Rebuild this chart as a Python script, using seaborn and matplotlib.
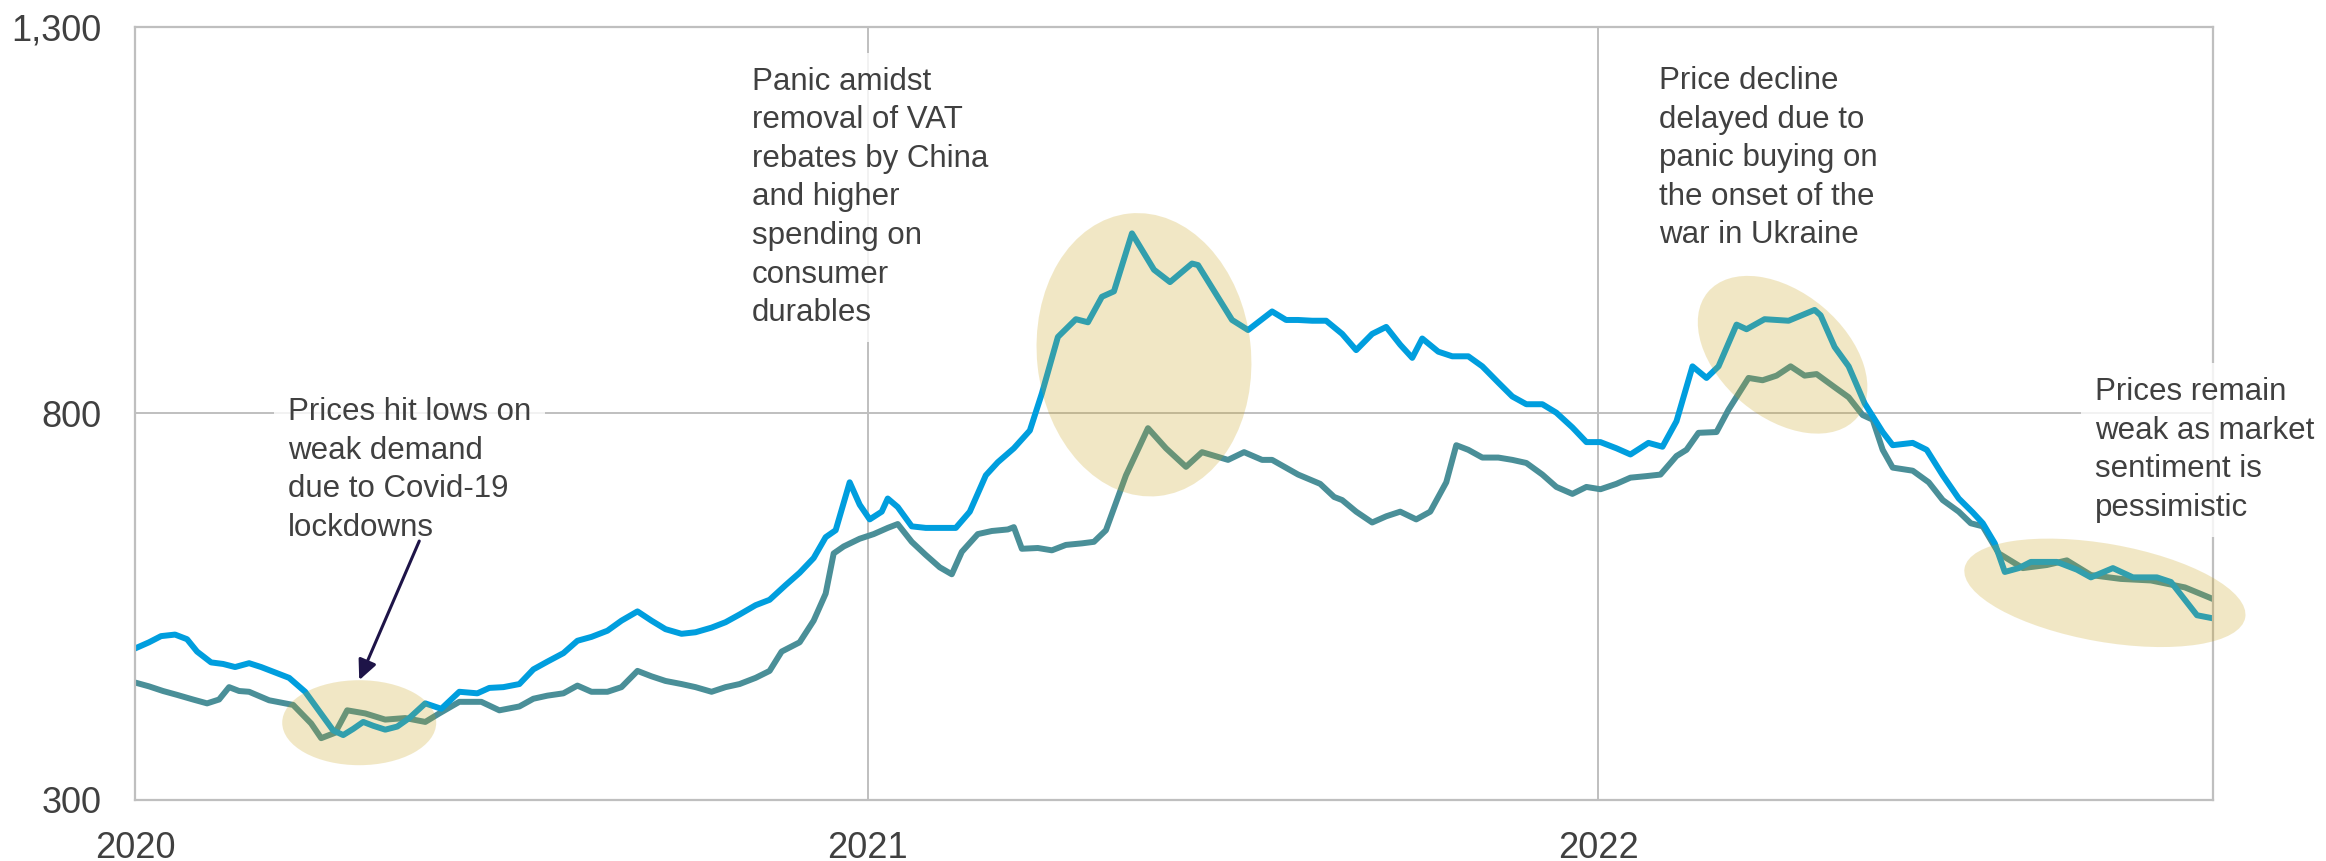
import pandas as pd
import matplotlib
matplotlib.use("Agg")
import matplotlib.pyplot as plt
import matplotlib.dates as mdates
import matplotlib.transforms as mtransforms
from matplotlib.patches import Ellipse
from matplotlib.ticker import FuncFormatter
import seaborn as sns

START = pd.Timestamp("2020-01-01")

# Price series A (bright blue): days since 1 Jan 2020, price
days_a = [0, 7, 13, 20, 26, 31, 38, 44, 50, 57, 63, 67, 77, 85, 94, 99, 104, 109,
          114, 119, 125, 131, 137, 145, 153, 162, 171, 177, 184, 192, 199, 206, 214,
          221, 228, 236, 243, 251, 258, 265, 273, 280, 288, 295, 302, 310, 317, 325,
          332, 339, 345, 350, 357, 362, 367, 373, 376, 381, 388, 395, 402, 410, 417,
          425, 431, 439, 447, 453, 461, 470, 476, 483, 489, 498, 509, 517, 528, 531,
          548, 556, 568, 575, 581, 588, 595, 603, 610, 618, 625, 632, 638, 643, 651,
          658, 666, 673, 681, 688, 695, 703, 710, 718, 725, 732, 740, 747, 756, 763,
          770, 778, 785, 791, 800, 805, 814, 826, 839, 842, 849, 856, 864, 873, 878,
          888, 895, 903, 911, 918, 923, 929, 934, 941, 947, 960, 970, 977, 988, 998,
          1010, 1017, 1030, 1038]
price_a = [496, 504, 512, 514, 508, 492, 478, 476, 472, 477, 472, 468, 458, 440, 408,
           390, 384, 392, 401, 396, 391, 395, 406, 425, 418, 440, 438, 445, 446, 450,
           469, 479, 490, 506, 511, 519, 532, 544, 532, 521, 515, 517, 523, 530, 540,
           552, 559, 578, 594, 613, 640, 649, 711, 682, 663, 673, 690, 679, 654, 652,
           652, 652, 673, 720, 737, 755, 778, 826, 899, 922, 918, 951, 958, 1033, 986,
           970, 994, 992, 921, 908, 932, 921, 921, 920, 920, 903, 882, 903, 912, 889,
           872, 897, 880, 874, 874, 861, 840, 822, 812, 812, 801, 782, 763, 763, 755,
           747, 762, 757, 790, 861, 846, 861, 915, 909, 922, 920, 934, 927, 886, 861,
           813, 776, 759, 762, 753, 720, 690, 672, 658, 632, 595, 600, 608, 608, 598,
           588, 600, 588, 588, 582, 539, 535]

# Price series B (muted teal): days since 1 Jan 2020, price
days_b = [0, 7, 14, 21, 29, 36, 42, 47, 52, 57, 67, 79, 88, 93, 100, 106, 115, 125,
          135, 145, 152, 162, 173, 182, 192, 199, 206, 214, 221, 228, 236, 243, 251,
          258, 265, 273, 280, 288, 295, 302, 310, 317, 323, 332, 339, 345, 349, 354,
          362, 369, 376, 381, 388, 395, 402, 408, 413, 421, 428, 436, 439, 443, 451,
          458, 465, 473, 479, 485, 495, 506, 515, 525, 533, 546, 554, 563, 568, 581,
          592, 599, 603, 610, 618, 625, 632, 640, 647, 655, 660, 666, 673, 681, 688,
          695, 703, 710, 718, 725, 732, 740, 747, 755, 762, 770, 775, 781, 790, 796,
          806, 813, 820, 827, 834, 840, 849, 856, 863, 868, 873, 878, 888, 896, 903,
          911, 917, 923, 931, 943, 955, 965, 977, 992, 1007, 1024, 1038]
price_b = [452, 447, 441, 436, 430, 425, 430, 446, 441, 440, 429, 423, 399, 380, 387,
           416, 412, 404, 406, 401, 412, 427, 427, 416, 421, 431, 435, 438, 448, 440,
           440, 446, 467, 460, 454, 450, 446, 440, 446, 450, 458, 467, 492, 504, 532,
           567, 619, 628, 638, 644, 652, 657, 634, 617, 601, 592, 621, 644, 648, 650,
           653, 625, 626, 623, 630, 632, 634, 649, 720, 781, 755, 731, 750, 740, 750,
           740, 740, 721, 709, 692, 688, 673, 659, 667, 673, 663, 673, 711, 759, 753,
           743, 743, 740, 736, 721, 705, 696, 705, 702, 709, 717, 719, 721, 745, 753,
           775, 776, 805, 846, 843, 849, 861, 849, 851, 834, 821, 798, 792, 753, 730,
           726, 711, 688, 673, 658, 654, 619, 600, 604, 610, 591, 586, 584, 575, 560]

year_ticks = ["2020-01-01", "2021-01-01", "2022-01-01"]
year_labels = ["2020", "2021", "2022"]
value_ticks = [300, 800, 1300]
END_DAY = 1038

# Highlighted periods: centre (date, price), size in pixels, tilt in degrees
highlights = [
    ("2020-04-22", 400, 154, 85, 0),
    ("2021-05-19", 876, 214, 284, 6),
    ("2022-04-03", 876, 195, 125, -40),
    ("2022-09-11", 568, 285, 98, -10),
]

notes = [
    ("Prices hit lows on\nweak demand\ndue to Covid-19\nlockdowns", 0.0736, 0.5213),
    ("Panic amidst\nremoval of VAT\nrebates by China\nand higher\nspending on\nconsumer\ndurables",
     0.2969, 0.9483),
    ("Price decline\ndelayed due to\npanic buying on\nthe onset of the\nwar in Ukraine",
     0.7334, 0.9495),
    ("Prices remain\nweak as market\nsentiment is\npessimistic", 0.9432, 0.5472),
]

BLUE = "#009EDE"
TEAL = "#4A8F98"
GOLD = "#C8A31B"
GRID = "#BFBFBF"
TEXT = "#404040"

sns.set_theme(style="white")
plt.rcParams["font.family"] = ["Liberation Sans", "DejaVu Sans"]

fig = plt.figure(figsize=(23.26, 8.61), dpi=100)
ax = fig.add_axes([0.05804, 0.07085, 0.89338, 0.89779])

df_a = pd.DataFrame({"date": START + pd.to_timedelta(days_a, unit="D"), "price": price_a})
df_b = pd.DataFrame({"date": START + pd.to_timedelta(days_b, unit="D"), "price": price_b})

sns.lineplot(data=df_b, x="date", y="price", color=TEAL, linewidth=4.3,
             estimator=None, ax=ax, solid_joinstyle="round", solid_capstyle="round", zorder=2)
sns.lineplot(data=df_a, x="date", y="price", color=BLUE, linewidth=4.3,
             estimator=None, ax=ax, solid_joinstyle="round", solid_capstyle="round", zorder=2)

ax.set_xlim(START, START + pd.Timedelta(days=END_DAY))
ax.set_ylim(value_ticks[0], value_ticks[-1])
ax.set_xticks(pd.to_datetime(year_ticks))
ax.set_xticklabels(year_labels)
ax.set_yticks(value_ticks)
ax.yaxis.set_major_formatter(FuncFormatter(lambda v, _: f"{int(v):,}"))
ax.set_xlabel("")
ax.set_ylabel("")
ax.tick_params(axis="both", length=0, labelsize=26, labelcolor=TEXT)
ax.tick_params(axis="x", pad=22)
ax.tick_params(axis="y", pad=24)
ax.grid(True, color=GRID, linewidth=1.4)
for side in ax.spines.values():
    side.set_visible(True)
    side.set_color(GRID)
    side.set_linewidth(1.6)

# Translucent ellipses marking key episodes
for date, value, w, h, tilt in highlights:
    anchor = mtransforms.ScaledTranslation(
        mdates.date2num(pd.Timestamp(date)), value, ax.transData)
    ell = Ellipse((0, 0), width=w, height=h, angle=tilt, transform=anchor,
                  facecolor=GOLD, edgecolor="none", alpha=0.25, zorder=3, clip_on=False)
    ax.add_artist(ell)

for text, x, y in notes:
    ax.text(x, y, text, transform=ax.transAxes, ha="left", va="top", fontsize=22.5,
            color=TEXT, linespacing=1.37, zorder=5,
            bbox=dict(boxstyle="square,pad=0.45", facecolor="white", edgecolor="none", alpha=0.8))

ax.annotate("", xy=(pd.Timestamp("2020-04-22"), 455), xytext=(pd.Timestamp("2020-05-22"), 635),
            arrowprops=dict(arrowstyle="-|>,head_length=0.6,head_width=0.28", color="#1E1448",
                            lw=2.2, shrinkA=0, shrinkB=0, mutation_scale=20), zorder=6)

fig.savefig("out.png", dpi=100)
